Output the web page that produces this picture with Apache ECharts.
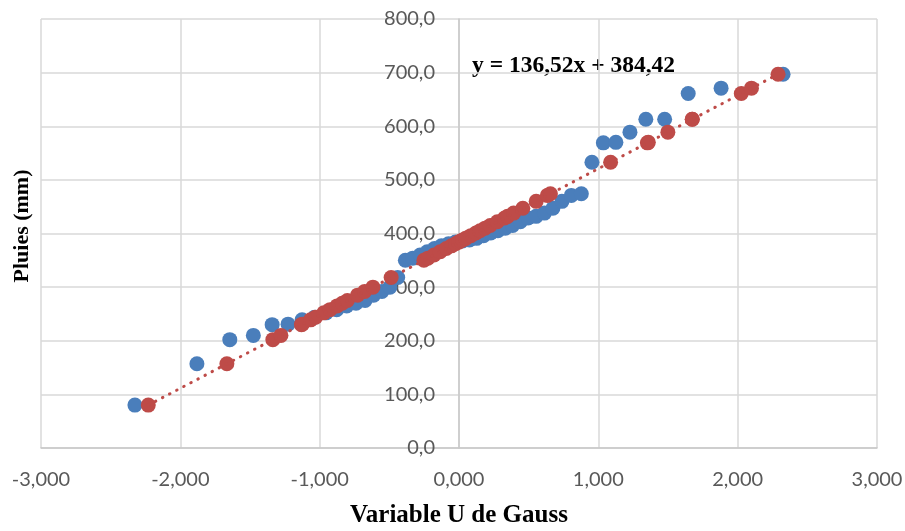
<!DOCTYPE html>
<html>
<head>
<meta charset="utf-8">
<script src="https://cdn.jsdelivr.net/npm/echarts@6/dist/echarts.min.js"></script>
<style>
html,body{margin:0;padding:0;background:#fff;}
#chart{width:905px;height:531px;}
</style>
</head>
<body>
<div id="chart"></div>
<script>
// Variable U de Gauss (observed, blue)
const uGauss = [-2.326,-1.881,-1.645,-1.476,-1.341,-1.227,-1.126,-1.036,-0.954,-0.878,
  -0.806,-0.739,-0.674,-0.613,-0.553,-0.496,-0.440,-0.385,-0.332,-0.279,
  -0.228,-0.176,-0.126,-0.075,-0.025,0.025,0.075,0.126,0.176,0.228,
  0.279,0.332,0.385,0.440,0.496,0.553,0.613,0.674,0.739,0.806,
  0.878,0.954,1.036,1.126,1.227,1.341,1.476,1.645,1.881,2.326];
// Pluies (mm)
const pluies = [80,157,202,210,230,231,239,244,252,258,
  265,270,275,285,292,300,318,350,354,360,
  366,372,377,381,384,386,388,391,396,401,
  405,410,415,422,429,432,438,447,460,471,
  474,533,569,570,589,613,613,661,671,697];
// U (theoretical, red)
const uTheo = [-2.230,-1.666,-1.336,-1.278,-1.131,-1.124,-1.065,-1.029,-0.970,-0.926,
  -0.875,-0.838,-0.801,-0.728,-0.677,-0.618,-0.487,-0.252,-0.223,-0.179,
  -0.135,-0.091,-0.054,-0.025,-0.003,0.012,0.026,0.048,0.085,0.121,
  0.151,0.187,0.224,0.275,0.327,0.349,0.392,0.458,0.554,0.634,
  0.656,1.088,1.352,1.359,1.499,1.674,1.674,2.026,2.099,2.290];
const slope = 136.52, intercept = 384.42;
const xTicks = [-3,-2,-1,0,1,2,3];
const yTicks = [0,100,200,300,400,500,600,700,800];

const fmt = (v, d) => v.toFixed(d).replace('.', ',');
const blueData = uGauss.map((u, i) => [u, pluies[i]]);
const redData = uTheo.map((u, i) => [u, pluies[i]]);
const xMin = Math.min(...uTheo), xMax = Math.max(...uTheo);
const trend = [[xMin, slope * xMin + intercept], [xMax, slope * xMax + intercept]];

const W = 905, GL = 41, GR = 28;
const plotW = W - GL - GR;
const xLo = xTicks[0], xHi = xTicks[xTicks.length - 1];
// shift the y axis (line + labels) to x = 0
const yAxisOffset = -plotW * (0 - xLo) / (xHi - xLo);

const chart = echarts.init(document.getElementById('chart'), null, {renderer: 'canvas'});
chart.setOption({
  animation: false,
  backgroundColor: '#ffffff',
  grid: {left: GL, right: GR, top: 19, bottom: 83, containLabel: false, outerBoundsMode: 'none'},
  xAxis: {
    type: 'value', min: xLo, max: xHi, interval: 1,
    axisLine: {show: true, onZero: false, lineStyle: {color: '#c8c8c8', width: 1.5}},
    axisTick: {show: false},
    splitLine: {show: true, lineStyle: {color: '#d9d9d9', width: 1.5}},
    axisLabel: {formatter: v => fmt(v, 3), color: '#595959', fontFamily: 'Lato', fontSize: 20, margin: 22},
    name: 'Variable U de Gauss', nameLocation: 'middle', nameGap: 55,
    nameTextStyle: {fontFamily: 'Liberation Serif', fontWeight: 'bold', fontSize: 25, color: '#000'}
  },
  yAxis: {
    type: 'value', min: yTicks[0], max: yTicks[yTicks.length - 1], interval: 100,
    position: 'left', offset: yAxisOffset,
    axisLine: {show: true, onZero: false, lineStyle: {color: '#c8c8c8', width: 1.5}},
    axisTick: {show: false},
    splitLine: {show: true, lineStyle: {color: '#d9d9d9', width: 1.5}},
    axisLabel: {formatter: v => fmt(v, 1), color: '#595959', fontFamily: 'Lato', fontSize: 20, margin: 24}
  },
  graphic: [
    {type: 'text', x: 22, y: 226, rotation: Math.PI / 2,
     style: {text: 'Pluies (mm)', font: 'bold 22px "Liberation Serif"', fill: '#000', align: 'center', verticalAlign: 'middle'}},
    {type: 'text', left: 472, top: 54,
     style: {text: 'y = 136,52x + 384,42', font: 'bold 23.5px "Liberation Serif"', fill: '#000'}}
  ],
  series: [
    {type: 'scatter', data: blueData, symbol: 'circle', symbolSize: 15,
     itemStyle: {color: '#4a7ebb', opacity: 1}, z: 2},
    {type: 'scatter', data: redData, symbol: 'circle', symbolSize: 15,
     itemStyle: {color: '#be4b48', opacity: 1}, z: 3},
    {type: 'line', data: trend, symbol: 'none', silent: true,
     lineStyle: {color: '#be4b48', width: 3, type: [0.5, 7.5], cap: 'round'}, z: 4}
  ]
});
</script>
</body>
</html>
